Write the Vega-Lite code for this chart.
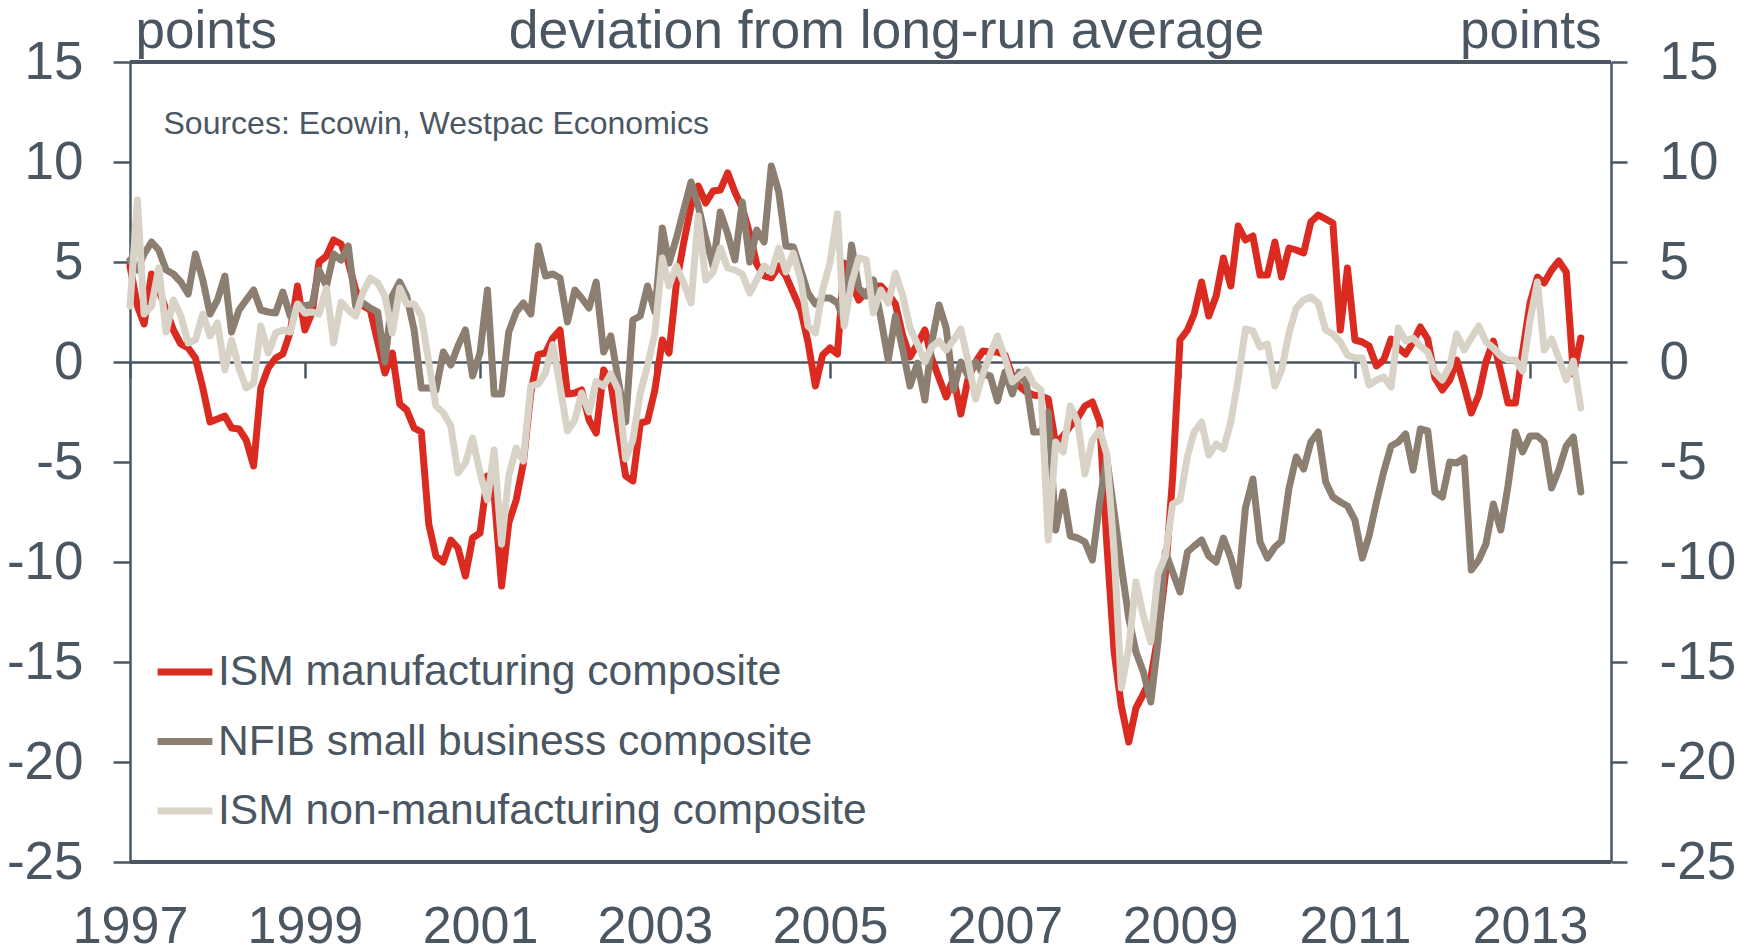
{
  "$schema": "https://vega.github.io/schema/vega-lite/v6.json",
  "width": 1481,
  "height": 800,
  "autosize": {"type": "none"},
  "padding": {"left": 130, "top": 62, "right": 126, "bottom": 90},
  "background": "white",
  "config": {"font": "Liberation Sans", "view": {"stroke": null}},
  "resolve": {"axis": {"x": "independent", "y": "independent"}},
  "layer": [
    {
      "data": {
        "format": {"parse": {"d": "date:'%Y-%m'"}},
        "values": [
{"d":"1997-01","ism":4.8,"nfib":5.1,"nonm":2.8},
{"d":"1997-02","ism":2.8,"nfib":4.6,"nonm":8.1},
{"d":"1997-03","ism":1.9,"nfib":5.4,"nonm":2.4},
{"d":"1997-04","ism":4.4,"nfib":6.0,"nonm":2.8},
{"d":"1997-05","ism":3.6,"nfib":5.6,"nonm":4.7},
{"d":"1997-06","ism":2.6,"nfib":4.6,"nonm":1.5},
{"d":"1997-07","ism":1.6,"nfib":4.4,"nonm":3.1},
{"d":"1997-08","ism":0.9,"nfib":4.0,"nonm":2.3},
{"d":"1997-09","ism":0.7,"nfib":3.4,"nonm":0.95},
{"d":"1997-10","ism":0.2,"nfib":5.4,"nonm":1.1},
{"d":"1997-11","ism":-1.3,"nfib":4.1,"nonm":2.4},
{"d":"1997-12","ism":-3.0,"nfib":2.4,"nonm":1.3},
{"d":"1998-01","ism":-2.85,"nfib":3.1,"nonm":1.95},
{"d":"1998-02","ism":-2.7,"nfib":4.3,"nonm":-0.4},
{"d":"1998-03","ism":-3.3,"nfib":1.5,"nonm":1.1},
{"d":"1998-04","ism":-3.35,"nfib":2.6,"nonm":-0.3},
{"d":"1998-05","ism":-3.9,"nfib":3.1,"nonm":-1.3},
{"d":"1998-06","ism":-5.2,"nfib":3.6,"nonm":-1.05},
{"d":"1998-07","ism":-1.3,"nfib":2.6,"nonm":1.8},
{"d":"1998-08","ism":-0.3,"nfib":2.5,"nonm":0.45},
{"d":"1998-09","ism":0.2,"nfib":2.45,"nonm":1.45},
{"d":"1998-10","ism":0.4,"nfib":3.5,"nonm":1.6},
{"d":"1998-11","ism":1.5,"nfib":2.3,"nonm":1.5},
{"d":"1998-12","ism":3.8,"nfib":2.9,"nonm":2.9},
{"d":"1999-01","ism":1.6,"nfib":2.8,"nonm":2.45},
{"d":"1999-02","ism":2.5,"nfib":2.9,"nonm":2.5},
{"d":"1999-03","ism":5.0,"nfib":4.6,"nonm":2.4},
{"d":"1999-04","ism":5.3,"nfib":3.8,"nonm":3.7},
{"d":"1999-05","ism":6.1,"nfib":5.4,"nonm":0.95},
{"d":"1999-06","ism":5.9,"nfib":5.1,"nonm":3.0},
{"d":"1999-07","ism":5.0,"nfib":5.8,"nonm":2.6},
{"d":"1999-08","ism":3.6,"nfib":2.8,"nonm":2.3},
{"d":"1999-09","ism":2.8,"nfib":2.95,"nonm":3.5},
{"d":"1999-10","ism":2.6,"nfib":2.7,"nonm":4.2},
{"d":"1999-11","ism":1.0,"nfib":2.5,"nonm":3.95},
{"d":"1999-12","ism":-0.55,"nfib":0.0,"nonm":3.3},
{"d":"2000-01","ism":0.45,"nfib":3.3,"nonm":1.45},
{"d":"2000-02","ism":-2.1,"nfib":4.0,"nonm":3.7},
{"d":"2000-03","ism":-2.4,"nfib":3.3,"nonm":2.9},
{"d":"2000-04","ism":-3.3,"nfib":1.6,"nonm":2.9},
{"d":"2000-05","ism":-3.5,"nfib":-1.3,"nonm":2.3},
{"d":"2000-06","ism":-8.1,"nfib":-1.3,"nonm":0.0},
{"d":"2000-07","ism":-9.7,"nfib":-1.4,"nonm":-2.2},
{"d":"2000-08","ism":-10.0,"nfib":0.5,"nonm":-2.55},
{"d":"2000-09","ism":-8.9,"nfib":-0.15,"nonm":-3.2},
{"d":"2000-10","ism":-9.3,"nfib":0.8,"nonm":-5.55},
{"d":"2000-11","ism":-10.7,"nfib":1.6,"nonm":-5.05},
{"d":"2000-12","ism":-8.8,"nfib":-0.7,"nonm":-3.8},
{"d":"2001-01","ism":-8.55,"nfib":0.45,"nonm":-5.55},
{"d":"2001-02","ism":-5.7,"nfib":3.6,"nonm":-6.9},
{"d":"2001-03","ism":-6.6,"nfib":-1.6,"nonm":-4.4},
{"d":"2001-04","ism":-11.2,"nfib":-1.6,"nonm":-9.1},
{"d":"2001-05","ism":-8.05,"nfib":1.5,"nonm":-5.7},
{"d":"2001-06","ism":-6.9,"nfib":2.5,"nonm":-4.3},
{"d":"2001-07","ism":-5.05,"nfib":2.95,"nonm":-4.95},
{"d":"2001-08","ism":-1.55,"nfib":2.4,"nonm":-1.2},
{"d":"2001-09","ism":0.37,"nfib":5.8,"nonm":-1.1},
{"d":"2001-10","ism":0.45,"nfib":4.3,"nonm":-0.55},
{"d":"2001-11","ism":1.2,"nfib":4.4,"nonm":0.87},
{"d":"2001-12","ism":1.6,"nfib":4.2,"nonm":-1.2},
{"d":"2002-01","ism":-1.6,"nfib":2.0,"nonm":-3.45},
{"d":"2002-02","ism":-1.55,"nfib":3.6,"nonm":-2.9},
{"d":"2002-03","ism":-1.4,"nfib":3.2,"nonm":-1.55},
{"d":"2002-04","ism":-2.9,"nfib":2.7,"nonm":-2.5},
{"d":"2002-05","ism":-3.55,"nfib":4.0,"nonm":-0.97},
{"d":"2002-06","ism":-0.4,"nfib":0.5,"nonm":-1.2},
{"d":"2002-07","ism":-1.05,"nfib":1.3,"nonm":-0.6},
{"d":"2002-08","ism":-3.4,"nfib":-0.9,"nonm":-1.4},
{"d":"2002-09","ism":-5.7,"nfib":-3.0,"nonm":-4.85},
{"d":"2002-10","ism":-5.95,"nfib":2.1,"nonm":-3.9},
{"d":"2002-11","ism":-3.05,"nfib":2.3,"nonm":-1.55},
{"d":"2002-12","ism":-2.96,"nfib":3.8,"nonm":-0.2},
{"d":"2003-01","ism":-1.4,"nfib":2.5,"nonm":1.45},
{"d":"2003-02","ism":1.1,"nfib":6.7,"nonm":5.2},
{"d":"2003-03","ism":0.45,"nfib":4.95,"nonm":3.8},
{"d":"2003-04","ism":3.95,"nfib":6.2,"nonm":4.8},
{"d":"2003-05","ism":5.95,"nfib":7.6,"nonm":3.95},
{"d":"2003-06","ism":7.8,"nfib":9.0,"nonm":2.95},
{"d":"2003-07","ism":8.8,"nfib":7.8,"nonm":7.3},
{"d":"2003-08","ism":7.95,"nfib":6.2,"nonm":4.1},
{"d":"2003-09","ism":8.55,"nfib":4.8,"nonm":4.5},
{"d":"2003-10","ism":8.6,"nfib":7.5,"nonm":5.7},
{"d":"2003-11","ism":9.45,"nfib":6.4,"nonm":4.7},
{"d":"2003-12","ism":8.5,"nfib":5.1,"nonm":4.6},
{"d":"2004-01","ism":7.7,"nfib":8.0,"nonm":4.4},
{"d":"2004-02","ism":6.4,"nfib":5.0,"nonm":3.45},
{"d":"2004-03","ism":4.9,"nfib":6.6,"nonm":4.1},
{"d":"2004-04","ism":4.3,"nfib":6.0,"nonm":4.8},
{"d":"2004-05","ism":4.2,"nfib":9.8,"nonm":4.5},
{"d":"2004-06","ism":4.8,"nfib":8.5,"nonm":5.7},
{"d":"2004-07","ism":4.3,"nfib":5.8,"nonm":4.5},
{"d":"2004-08","ism":3.45,"nfib":5.75,"nonm":5.45},
{"d":"2004-09","ism":2.6,"nfib":4.6,"nonm":4.1},
{"d":"2004-10","ism":1.0,"nfib":3.45,"nonm":1.8},
{"d":"2004-11","ism":-1.2,"nfib":2.9,"nonm":1.45},
{"d":"2004-12","ism":0.35,"nfib":3.2,"nonm":3.6},
{"d":"2005-01","ism":0.7,"nfib":3.2,"nonm":4.95},
{"d":"2005-02","ism":0.4,"nfib":2.95,"nonm":7.4},
{"d":"2005-03","ism":4.95,"nfib":2.05,"nonm":1.8},
{"d":"2005-04","ism":3.9,"nfib":5.85,"nonm":3.95},
{"d":"2005-05","ism":3.1,"nfib":3.7,"nonm":5.2},
{"d":"2005-06","ism":3.5,"nfib":3.3,"nonm":5.1},
{"d":"2005-07","ism":3.8,"nfib":4.1,"nonm":2.45},
{"d":"2005-08","ism":3.8,"nfib":2.2,"nonm":3.6},
{"d":"2005-09","ism":3.4,"nfib":0.1,"nonm":2.95},
{"d":"2005-10","ism":2.9,"nfib":2.3,"nonm":4.45},
{"d":"2005-11","ism":1.3,"nfib":0.6,"nonm":3.3},
{"d":"2005-12","ism":0.25,"nfib":-1.2,"nonm":1.7},
{"d":"2006-01","ism":0.9,"nfib":-0.05,"nonm":0.9},
{"d":"2006-02","ism":1.6,"nfib":-1.9,"nonm":0.0},
{"d":"2006-03","ism":0.2,"nfib":0.95,"nonm":0.75},
{"d":"2006-04","ism":-0.8,"nfib":2.85,"nonm":1.05},
{"d":"2006-05","ism":-1.75,"nfib":1.7,"nonm":0.6},
{"d":"2006-06","ism":-0.8,"nfib":-1.4,"nonm":1.1},
{"d":"2006-07","ism":-2.6,"nfib":0.0,"nonm":1.65},
{"d":"2006-08","ism":-0.8,"nfib":-0.7,"nonm":0.0},
{"d":"2006-09","ism":0.0,"nfib":0.0,"nonm":-1.85},
{"d":"2006-10","ism":0.55,"nfib":-0.6,"nonm":-0.6},
{"d":"2006-11","ism":0.5,"nfib":-0.7,"nonm":0.4},
{"d":"2006-12","ism":0.5,"nfib":-1.95,"nonm":1.3},
{"d":"2007-01","ism":0.35,"nfib":-0.5,"nonm":0.2},
{"d":"2007-02","ism":-0.7,"nfib":-1.6,"nonm":-1.0},
{"d":"2007-03","ism":-1.2,"nfib":-0.5,"nonm":-0.7},
{"d":"2007-04","ism":-1.5,"nfib":-1.1,"nonm":-0.4},
{"d":"2007-05","ism":-1.65,"nfib":-3.5,"nonm":-1.1},
{"d":"2007-06","ism":-1.7,"nfib":-3.5,"nonm":-1.4},
{"d":"2007-07","ism":-1.85,"nfib":-2.5,"nonm":-8.9},
{"d":"2007-08","ism":-4.1,"nfib":-8.4,"nonm":-4.0},
{"d":"2007-09","ism":-3.7,"nfib":-6.5,"nonm":-4.5},
{"d":"2007-10","ism":-3.2,"nfib":-8.7,"nonm":-2.2},
{"d":"2007-11","ism":-2.8,"nfib":-8.8,"nonm":-3.0},
{"d":"2007-12","ism":-2.2,"nfib":-9.0,"nonm":-5.6},
{"d":"2008-01","ism":-2.0,"nfib":-9.9,"nonm":-3.9},
{"d":"2008-02","ism":-3.0,"nfib":-7.0,"nonm":-3.4},
{"d":"2008-03","ism":-9.0,"nfib":-4.8,"nonm":-4.6},
{"d":"2008-04","ism":-14.5,"nfib":-7.5,"nonm":-9.5},
{"d":"2008-05","ism":-17.2,"nfib":-10.2,"nonm":-16.3},
{"d":"2008-06","ism":-19.0,"nfib":-12.8,"nonm":-14.3},
{"d":"2008-07","ism":-17.3,"nfib":-14.5,"nonm":-11.0},
{"d":"2008-08","ism":-16.6,"nfib":-15.5,"nonm":-12.7},
{"d":"2008-09","ism":-15.8,"nfib":-17.0,"nonm":-14.0},
{"d":"2008-10","ism":-13.7,"nfib":-14.0,"nonm":-10.6},
{"d":"2008-11","ism":-10.6,"nfib":-9.5,"nonm":-9.7},
{"d":"2008-12","ism":-5.8,"nfib":-10.5,"nonm":-7.1},
{"d":"2009-01","ism":1.1,"nfib":-11.5,"nonm":-6.9},
{"d":"2009-02","ism":1.6,"nfib":-9.5,"nonm":-4.7},
{"d":"2009-03","ism":2.4,"nfib":-9.2,"nonm":-3.5},
{"d":"2009-04","ism":4.0,"nfib":-8.9,"nonm":-3.0},
{"d":"2009-05","ism":2.3,"nfib":-9.7,"nonm":-4.65},
{"d":"2009-06","ism":3.3,"nfib":-10.0,"nonm":-4.1},
{"d":"2009-07","ism":5.2,"nfib":-8.8,"nonm":-4.35},
{"d":"2009-08","ism":3.8,"nfib":-9.8,"nonm":-3.0},
{"d":"2009-09","ism":6.8,"nfib":-11.2,"nonm":-0.85},
{"d":"2009-10","ism":6.1,"nfib":-7.3,"nonm":1.65},
{"d":"2009-11","ism":6.3,"nfib":-5.85,"nonm":1.55},
{"d":"2009-12","ism":4.35,"nfib":-9.0,"nonm":0.75},
{"d":"2010-01","ism":4.35,"nfib":-9.8,"nonm":0.9},
{"d":"2010-02","ism":6.0,"nfib":-9.25,"nonm":-1.2},
{"d":"2010-03","ism":4.25,"nfib":-8.95,"nonm":-0.4},
{"d":"2010-04","ism":5.7,"nfib":-6.3,"nonm":1.45},
{"d":"2010-05","ism":5.6,"nfib":-4.75,"nonm":2.7},
{"d":"2010-06","ism":5.45,"nfib":-5.35,"nonm":3.1},
{"d":"2010-07","ism":7.0,"nfib":-4.0,"nonm":3.25},
{"d":"2010-08","ism":7.35,"nfib":-3.5,"nonm":2.95},
{"d":"2010-09","ism":7.15,"nfib":-6.0,"nonm":1.6},
{"d":"2010-10","ism":6.95,"nfib":-6.75,"nonm":1.4},
{"d":"2010-11","ism":1.6,"nfib":-7.0,"nonm":1.0},
{"d":"2010-12","ism":4.7,"nfib":-7.2,"nonm":0.35},
{"d":"2011-01","ism":1.1,"nfib":-7.9,"nonm":0.2},
{"d":"2011-02","ism":1.0,"nfib":-9.8,"nonm":0.2},
{"d":"2011-03","ism":0.8,"nfib":-8.7,"nonm":-1.15},
{"d":"2011-04","ism":-0.2,"nfib":-7.0,"nonm":-0.9},
{"d":"2011-05","ism":0.1,"nfib":-5.5,"nonm":-0.75},
{"d":"2011-06","ism":1.15,"nfib":-4.2,"nonm":-1.25},
{"d":"2011-07","ism":0.7,"nfib":-4.0,"nonm":1.7},
{"d":"2011-08","ism":0.4,"nfib":-3.6,"nonm":1.05},
{"d":"2011-09","ism":1.0,"nfib":-5.4,"nonm":1.2},
{"d":"2011-10","ism":1.75,"nfib":-3.35,"nonm":0.8},
{"d":"2011-11","ism":1.15,"nfib":-3.45,"nonm":0.5},
{"d":"2011-12","ism":-0.8,"nfib":-6.5,"nonm":-0.5},
{"d":"2012-01","ism":-1.4,"nfib":-6.75,"nonm":-0.9},
{"d":"2012-02","ism":-0.9,"nfib":-5.0,"nonm":-0.2},
{"d":"2012-03","ism":0.1,"nfib":-5.05,"nonm":1.4},
{"d":"2012-04","ism":-1.2,"nfib":-4.8,"nonm":0.6},
{"d":"2012-05","ism":-2.55,"nfib":-10.4,"nonm":1.2},
{"d":"2012-06","ism":-1.65,"nfib":-9.9,"nonm":1.8},
{"d":"2012-07","ism":0.0,"nfib":-9.1,"nonm":1.0},
{"d":"2012-08","ism":1.05,"nfib":-7.1,"nonm":0.7},
{"d":"2012-09","ism":-0.5,"nfib":-8.4,"nonm":0.3},
{"d":"2012-10","ism":-2.05,"nfib":-6.2,"nonm":0.1},
{"d":"2012-11","ism":-2.05,"nfib":-3.5,"nonm":0.1},
{"d":"2012-12","ism":0.5,"nfib":-4.5,"nonm":-0.45},
{"d":"2013-01","ism":2.95,"nfib":-3.7,"nonm":2.1},
{"d":"2013-02","ism":4.25,"nfib":-3.7,"nonm":4.0},
{"d":"2013-03","ism":3.95,"nfib":-4.0,"nonm":0.6},
{"d":"2013-04","ism":4.6,"nfib":-6.3,"nonm":1.15},
{"d":"2013-05","ism":5.05,"nfib":-5.4,"nonm":0.2},
{"d":"2013-06","ism":4.5,"nfib":-4.2,"nonm":-0.9},
{"d":"2013-07","ism":-0.6,"nfib":-3.75,"nonm":0.05},
{"d":"2013-08","ism":1.2,"nfib":-6.5,"nonm":-2.3}
        ]
      },
      "transform": [{"fold": ["ism", "nfib", "nonm"], "as": ["series", "value"]}],
      "mark": {"type": "line", "strokeWidth": 7, "strokeJoin": "round", "strokeCap": "round"},
      "encoding": {
        "x": {
          "field": "d", "type": "temporal",
          "scale": {"domain": [{"year": 1997, "month": 1, "date": 1}, {"year": 2013, "month": 12, "date": 5}]},
          "axis": {
            "orient": "bottom", "offset": -500,
            "values": [{"year": 1997, "month": 1, "date": 1}, {"year": 1999, "month": 1, "date": 1}, {"year": 2001, "month": 1, "date": 1}, {"year": 2003, "month": 1, "date": 1}, {"year": 2005, "month": 1, "date": 1}, {"year": 2007, "month": 1, "date": 1}, {"year": 2009, "month": 1, "date": 1}, {"year": 2011, "month": 1, "date": 1}, {"year": 2013, "month": 1, "date": 1}],
            "format": "%Y",
            "grid": false,
            "domain": true, "domainColor": "#4a5763", "domainWidth": 2.5,
            "ticks": true, "tickSize": 16, "tickWidth": 2.5, "tickColor": "#4a5763",
            "labels": true, "labelFontSize": 52, "labelColor": "#4a5763", "labelBaseline": "alphabetic",
            "labelPadding": 564, "labelFlush": false, "labelOverlap": false,
            "title": "Sources: Ecowin, Westpac Economics",
            "titleX": 33, "titleY": -229, "titleAlign": "left", "titleAnchor": null, "titleBaseline": "alphabetic",
            "titleFontSize": 32, "titleFontWeight": "normal", "titleColor": "#4a5763"
          }
        },
        "y": {
          "field": "value", "type": "quantitative",
          "scale": {"domain": [-25, 15], "nice": false, "zero": false},
          "axis": {
            "orient": "left",
            "values": [-25, -20, -15, -10, -5, 0, 5, 10, 15],
            "labelExpr": "replace(datum.label, '\u2212', '-')",
            "grid": false,
            "domainColor": "#4a5763", "domainWidth": 2.5,
            "tickSize": 17, "tickWidth": 2.5, "tickColor": "#4a5763",
            "labelFontSize": 53, "labelColor": "#4a5763", "labelPadding": 30,
            "title": "points", "titleAngle": 0, "titleX": 5, "titleY": -15,
            "titleAlign": "left", "titleAnchor": null, "titleBaseline": "alphabetic",
            "titleFontSize": 53, "titleFontWeight": "normal", "titleColor": "#4a5763"
          }
        },
        "color": {
          "field": "series", "type": "nominal",
          "scale": {"domain": ["ism", "nfib", "nonm"], "range": ["#db2a20", "#8c7e71", "#d9d3c7"]},
          "legend": {
            "orient": "none", "legendX": 24, "legendY": 579,
            "title": null, "padding": 0,
            "symbolType": "stroke", "symbolStrokeWidth": 7, "symbolSize": 3000,
            "labelFontSize": 42.6, "labelColor": "#4a5763", "labelOffset": 2, "labelLimit": 1200,
            "rowPadding": 16.5,
            "labelExpr": "datum.label == 'ism' ? 'ISM manufacturing composite' : datum.label == 'nfib' ? 'NFIB small business composite' : 'ISM non-manufacturing composite'"
          }
        }
      }
    },
    {
      "data": {"values": [{}]},
      "mark": {"type": "rule", "strokeWidth": 4, "color": "#4a5763"},
      "encoding": {
        "x": {
          "datum": {"year": 1997, "month": 1, "date": 1}, "type": "temporal",
          "axis": {
            "orient": "top", "domain": false, "ticks": false, "labels": false, "grid": false,
            "title": "deviation from long-run average",
            "titleX": 756, "titleY": -15, "titleAlign": "center", "titleAnchor": null, "titleBaseline": "alphabetic",
            "titleFontSize": 53.5, "titleFontWeight": "normal", "titleColor": "#4a5763"
          }
        },
        "x2": {"datum": {"year": 2013, "month": 12, "date": 5}},
        "y": {
          "datum": 15, "type": "quantitative",
          "axis": {
            "orient": "right",
            "values": [-25, -20, -15, -10, -5, 0, 5, 10, 15],
            "labelExpr": "replace(datum.label, '\u2212', '-')",
            "grid": false,
            "domainColor": "#4a5763", "domainWidth": 2.5,
            "tickSize": 16, "tickWidth": 2.5, "tickColor": "#4a5763",
            "labelFontSize": 53, "labelColor": "#4a5763", "labelPadding": 32,
            "title": "points", "titleAngle": 0, "titleX": -10, "titleY": -15,
            "titleAlign": "right", "titleAnchor": null, "titleBaseline": "alphabetic",
            "titleFontSize": 53, "titleFontWeight": "normal", "titleColor": "#4a5763"
          }
        }
      }
    },
    {
      "data": {"values": [{}]},
      "mark": {"type": "rule", "strokeWidth": 4, "color": "#4a5763"},
      "encoding": {
        "y": {"datum": -25, "type": "quantitative", "axis": null}
      }
    }
  ]
}
